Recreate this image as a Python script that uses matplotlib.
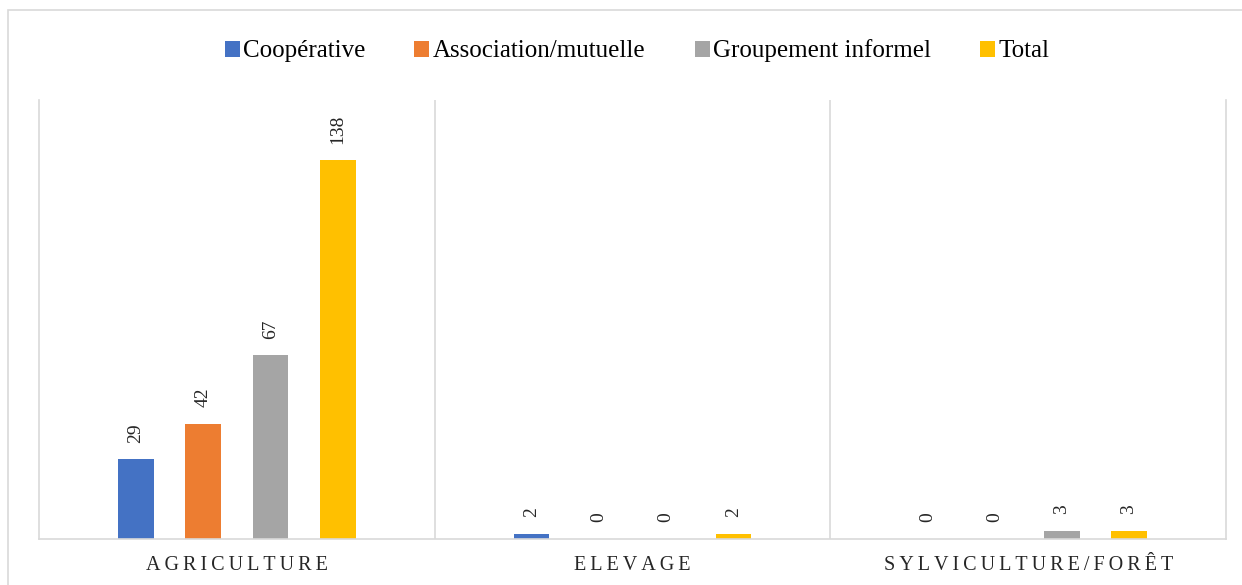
import numpy as np
import matplotlib
matplotlib.use("Agg")
import matplotlib.pyplot as plt
from matplotlib.patches import Rectangle

categories = ["AGRICULTURE", "ELEVAGE", "SYLVICULTURE/FORÊT"]
series = ["Coopérative", "Association/mutuelle", "Groupement informel", "Total"]
cooperative = [29, 2, 0]
association = [42, 0, 0]
groupement = [67, 0, 3]
total = [138, 2, 3]
values = [cooperative, association, groupement, total]
colors = ["#4472C4", "#ED7D31", "#A5A5A5", "#FFC000"]

plt.rcParams["font.family"] = ["Liberation Serif", "DejaVu Serif"]

fig = plt.figure(figsize=(12.42, 5.85), dpi=100)
ax = fig.add_axes([0.0314, 0.0786, 0.9557, 0.7504])

# outer chart frame (only top/left visible in the reference)
fig.patches.append(Rectangle((8 / 1242, -0.1), 1.2, 0.1 + (585 - 10) / 585,
                             transform=fig.transFigure, fill=False,
                             edgecolor="#d9d9d9", linewidth=1.2))

x = np.arange(len(categories))
width = 0.09
offsets = [-0.255, -0.085, 0.085, 0.255]
for vals, name, col, off in zip(values, series, colors, offsets):
    bars = ax.bar(x + off, vals, width, color=col, label=name)
    for b, v in zip(bars, vals):
        ax.annotate(f"{v}", (b.get_x() + b.get_width() / 2, b.get_height()),
                    xytext=(0, 12), textcoords="offset points",
                    rotation=90, ha="center", va="bottom", fontsize=14,
                    color="#262626")

ax.set_xlim(-0.5, 2.5)
ax.set_ylim(0, 160)
ax.set_yticks([])
ax.set_xticks(x)
ax.set_xticklabels(["\u2009".join(c) for c in categories], fontsize=14.5,
                   color="#262626")
ax.tick_params(axis="x", length=0, pad=12)
for s in ["left", "right", "bottom"]:
    ax.spines[s].set_color("#d9d9d9")
    ax.spines[s].set_linewidth(1.2)
ax.spines["top"].set_visible(False)
for sep in [0.5, 1.5]:
    ax.axvline(sep, color="#d9d9d9", linewidth=1.2)

fig.legend(loc="center", bbox_to_anchor=(0.513, 0.913), ncol=4, frameon=False,
           fontsize=18, handlelength=0.6, handleheight=0.6,
           handletextpad=0.15, columnspacing=1.95)

fig.savefig("out.png", dpi=100)
